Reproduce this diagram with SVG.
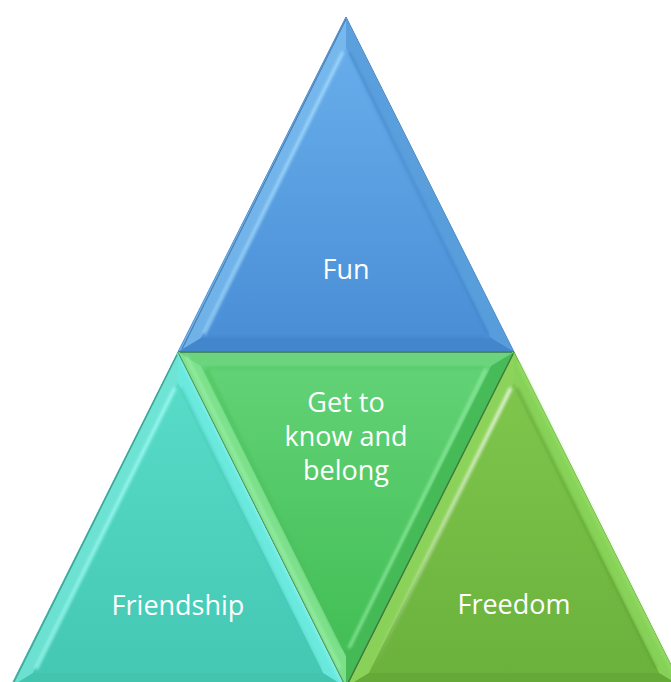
<svg xmlns="http://www.w3.org/2000/svg" width="671" height="682" viewBox="0 0 671 682">
  <defs>
    <linearGradient id="gBlue" x1="0" y1="0" x2="0" y2="1">
      <stop offset="0" stop-color="#68ADEA"/>
      <stop offset="1" stop-color="#4A8FD6"/>
    </linearGradient>
    <linearGradient id="gTeal" x1="0" y1="0" x2="0" y2="1">
      <stop offset="0" stop-color="#58DCC9"/>
      <stop offset="1" stop-color="#44C8B3"/>
    </linearGradient>
    <linearGradient id="gGreen" x1="0" y1="0" x2="0" y2="1">
      <stop offset="0" stop-color="#62D276"/>
      <stop offset="1" stop-color="#42BE55"/>
    </linearGradient>
    <linearGradient id="gLime" x1="0" y1="0" x2="0" y2="1">
      <stop offset="0" stop-color="#7EC64C"/>
      <stop offset="1" stop-color="#6BB23D"/>
    </linearGradient>
    <linearGradient id="fadeDown" x1="0" y1="0" x2="0" y2="1">
      <stop offset="0" stop-color="#fff" stop-opacity="0.9"/>
      <stop offset="0.6" stop-color="#fff" stop-opacity="0.5"/>
      <stop offset="1" stop-color="#fff" stop-opacity="0"/>
    </linearGradient>
    <filter id="soft" x="-10%" y="-10%" width="120%" height="120%">
      <feGaussianBlur stdDeviation="1"/>
    </filter>
    <filter id="shade" x="-10%" y="-10%" width="120%" height="120%">
      <feGaussianBlur stdDeviation="1.6"/>
    </filter>
  </defs>
  <style>
    .edge { stroke-width: 1; stroke-linejoin: round; }
    .lbl { font-family: "Open Sans", "Noto Sans", "DejaVu Sans", sans-serif; font-size: 27px; fill: #ffffff; text-anchor: middle; }
  </style>

  <!-- Top: Fun -->
  <g id="fun">
    <polygon points="346,17 178,352 514,352" fill="url(#gBlue)" class="edge" stroke="#3B78B8"/>
    <!-- bevel facets -->
    <polygon points="346,17 178,352 201,338 346,48" fill="#7CBCEE" opacity="0.75"/>
    <polygon points="346,17 514,352 491,338 346,48" fill="#5A9EDC" opacity="0.9"/>
    <polygon points="178,352 514,352 491,338 201,338" fill="#4282C8" opacity="0.7"/>
    <polygon points="346,48 201,338 491,338" fill="url(#gBlue)"/>
    <g filter="url(#shade)">
      <line x1="343" y1="52" x2="204" y2="334" stroke="#A8E0FF" stroke-width="3" opacity="0.85"/>
      <line x1="349" y1="52" x2="488" y2="334" stroke="#3F82C8" stroke-width="3" opacity="0.5"/>
      <line x1="206" y1="337" x2="486" y2="337" stroke="#3F82C8" stroke-width="2" opacity="0.5"/>
    </g>
    <line x1="346" y1="19" x2="182" y2="349" stroke="#3C74AE" stroke-width="1.2" opacity="0.8"/>
    <text class="lbl" x="346" y="279">Fun</text>
  </g>

  <!-- Bottom left: Friendship -->
  <g id="friendship">
    <polygon points="178,352 10.5,687 345.5,687" fill="url(#gTeal)" class="edge" stroke="#2E9E8E"/>
    <polygon points="178,352 10.5,687 33,673 178,383" fill="#76E6D8" opacity="0.8"/>
    <polygon points="178,352 345.5,687 323,673 178,383" fill="#6DEADF" opacity="0.95"/>
    <polygon points="10.5,687 345.5,687 323,673 33,673" fill="#42C2AE" opacity="0.7"/>
    <polygon points="178,383 33,673 323,673" fill="url(#gTeal)"/>
    <g filter="url(#shade)">
      <line x1="175" y1="388" x2="36" y2="669" stroke="#A8FFF8" stroke-width="3" opacity="0.85"/>
      <line x1="181" y1="388" x2="320" y2="669" stroke="#48C8B6" stroke-width="3" opacity="0.6"/>
      <line x1="182" y1="360" x2="342" y2="682" stroke="#8FF6EE" stroke-width="3" opacity="0.7"/>
    </g>
    <line x1="177" y1="355" x2="13" y2="684" stroke="#2F9484" stroke-width="1.2" opacity="0.8"/>
    <text class="lbl" x="178" y="615">Friendship</text>
  </g>

  <!-- Right: Freedom -->
  <g id="freedom">
    <polygon points="514,352 346,687 682,687" fill="url(#gLime)" class="edge" stroke="#4E8F2A"/>
    <polygon points="514,352 346,687 369,673 514,383" fill="#8FD65E" opacity="0.85"/>
    <polygon points="514,352 682,687 659,673 514,383" fill="#88D35A" opacity="0.95"/>
    <polygon points="346,687 682,687 659,673 369,673" fill="#62A538" opacity="0.7"/>
    <polygon points="514,383 369,673 659,673" fill="url(#gLime)"/>
    <g filter="url(#shade)">
      <line x1="511" y1="388" x2="372" y2="669" stroke="url(#fadeDown)" stroke-width="3.5" opacity="0.9"/>
      <line x1="517" y1="388" x2="656" y2="669" stroke="#5FA335" stroke-width="3" opacity="0.6"/>
      <line x1="518" y1="362" x2="676" y2="679" stroke="#9BE26A" stroke-width="3" opacity="0.6"/>
    </g>
    <text class="lbl" x="514" y="614">Freedom</text>
  </g>

  <!-- Centre (inverted): Get to know and belong -->
  <g id="belong">
    <polygon points="178,352 514,352 346,687" fill="url(#gGreen)" class="edge" stroke="#2F8A3C"/>
    <polygon points="178,352 514,352 491,366 201,366" fill="#6DD47E" opacity="0.9"/>
    <polygon points="178,352 346,687 346,656 201,366" fill="#7FE28E" opacity="0.95"/>
    <polygon points="514,352 346,687 346,656 491,366" fill="#45B855" opacity="0.9"/>
    <polygon points="201,366 491,366 346,656" fill="url(#gGreen)"/>
    <g filter="url(#shade)">
      <line x1="206" y1="369" x2="343" y2="648" stroke="#4CBC5C" stroke-width="3" opacity="0.6"/>
      <line x1="486" y1="369" x2="349" y2="648" stroke="#9BF0A8" stroke-width="3" opacity="0.75"/>
      <line x1="208" y1="368" x2="484" y2="368" stroke="#4CBC5C" stroke-width="2" opacity="0.5"/>
      <line x1="186" y1="356" x2="340" y2="668" stroke="#A5F4B0" stroke-width="2.5" opacity="0.7"/>
    </g>
    <line x1="513" y1="354" x2="347" y2="685" stroke="#3F6F3A" stroke-width="1.4" opacity="0.8"/>
    <line x1="179" y1="354" x2="345" y2="685" stroke="#5E8A5A" stroke-width="1" opacity="0.7"/>
    <line x1="180" y1="352.5" x2="512" y2="352.5" stroke="#3C7A56" stroke-width="1.2" opacity="0.8"/>
    <text class="lbl" x="346" y="412">Get to</text>
    <text class="lbl" x="346" y="446">know and</text>
    <text class="lbl" x="346" y="480">belong</text>
  </g>
</svg>
